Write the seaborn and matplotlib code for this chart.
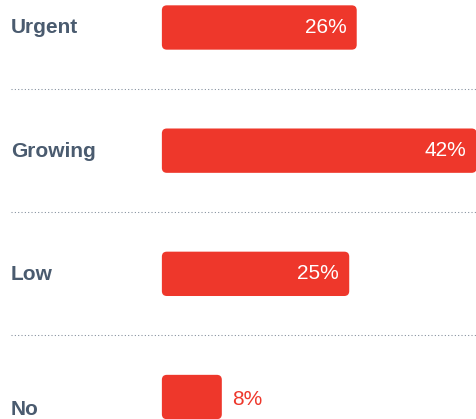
import matplotlib
matplotlib.use("Agg")
import matplotlib.pyplot as plt
from matplotlib.patches import FancyBboxPatch
import seaborn as sns
import pandas as pd

# Survey answers and their shares (%)
categories = ["Urgent", "Growing", "Low", "No"]
shares = [26, 42, 25, 8]

df = pd.DataFrame({"category": categories, "share": shares})

BAR_RED = "#ee372b"
LABEL_GREY = "#4a5b6f"
RULE_GREY = "#7f8b99"

sns.set_theme(style="white")
plt.rcParams["font.family"] = ["Liberation Sans", "DejaVu Sans"]

W, H = 477, 419
fig = plt.figure(figsize=(W / 100, H / 100), dpi=100)
ax = fig.add_axes([0, 0, 1, 1])

sns.barplot(data=df, x="share", y="category", orient="h",
            color=BAR_RED, saturation=1, width=0.36, ax=ax)

# pixel-based layout: 0% sits 162 px from the left, 7.5 px per percent
px_per_pct = 7.5
x0_px = 162
ax.set_xlim(-x0_px / px_per_pct, (W - x0_px) / px_per_pct + 0.05)
row_px = 123.2
top_px = 27.5
ax.set_ylim(3 + (H - 397) / row_px, -top_px / row_px)
ax.axis("off")

# swap the square bars for rounded ones
radius_x = 5 / px_per_pct
radius_y = 5 / row_px
for bar in list(ax.patches):
    x, y = bar.get_x(), bar.get_y()
    w, h = bar.get_width(), bar.get_height()
    rounded = FancyBboxPatch((x, y), w, h,
                             boxstyle=f"round,pad=0,rounding_size={radius_x}",
                             mutation_aspect=radius_y / radius_x,
                             facecolor=BAR_RED, edgecolor="none", zorder=2)
    bar.remove()
    ax.add_patch(rounded)

# dotted separators between rows
label_x = (11 - x0_px) / px_per_pct
for i in range(len(categories) - 1):
    ax.plot([label_x, ax.get_xlim()[1]], [i + 0.5, i + 0.5],
            color=RULE_GREY, lw=0.75, ls=(0, (1, 2.2)), zorder=1)

# row labels, placed by baseline (the last one sits lower)
baseline_px = [6, 6.5, 6.5, 18]
for i, (cat, dy) in enumerate(zip(categories, baseline_px)):
    ax.text(label_x, i + dy / row_px, cat, ha="left", va="baseline",
            fontsize=15, fontweight="bold", color=LABEL_GREY)

# value labels: inside the bar when there is room, otherwise just outside
pad = 10 / px_per_pct
for i, v in enumerate(shares):
    if v >= 15:
        ax.text(v - pad, i, f"{v}%", ha="right", va="center",
                fontsize=15, color="white", zorder=3)
    else:
        ax.text(v + pad, i + 2.5 / row_px, f"{v}%", ha="left", va="center",
                fontsize=15, color=BAR_RED, zorder=3)

fig.savefig("out.png", dpi=100)
